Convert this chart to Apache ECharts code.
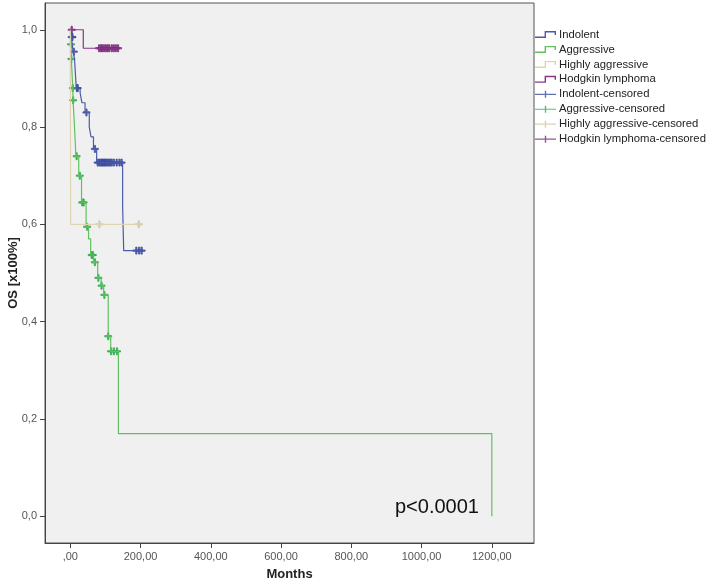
<!DOCTYPE html>
<html>
<head>
<meta charset="utf-8">
<title>OS by lymphoma type</title>
<script src="https://cdn.jsdelivr.net/npm/echarts@6/dist/echarts.min.js"></script>
<style>
  html, body { margin: 0; background: #fff; }
  #chart { width: 709px; height: 587px; }
</style>
</head>
<body>
<div id="chart"></div>
<script>
// axis ticks
const xTicks = [0, 200, 400, 600, 800, 1000, 1200];
const xTickLabels = [',00', '200,00', '400,00', '600,00', '800,00', '1000,00', '1200,00'];
const yTicks = [0, 0.2, 0.4, 0.6, 0.8, 1.0];
const yTickLabels = ['0,0', '0,2', '0,4', '0,6', '0,8', '1,0'];

// Kaplan-Meier steps (months, survival)
const indolentTime = [0, 3, 8, 12, 17, 28, 33, 42, 54, 59, 66, 75, 149, 152, 203];
const indolentSurv = [1.0, 0.985, 0.955, 0.94, 0.88, 0.87, 0.85, 0.83, 0.80, 0.78, 0.755, 0.727, 0.636, 0.546, 0.546];
const aggressiveTime = [0, 2, 3, 5, 7, 8, 12, 16, 24, 32, 45, 52, 58, 66, 78, 88, 95, 108, 115, 137, 1200];
const aggressiveSurv = [1.0, 0.97, 0.94, 0.91, 0.88, 0.855, 0.80, 0.74, 0.70, 0.645, 0.595, 0.57, 0.537, 0.522, 0.49, 0.474, 0.455, 0.37, 0.339, 0.17, 0.0];
const highlyTime = [0, 1, 195];
const highlySurv = [1.0, 0.6, 0.6];
const hodgkinTime = [0, 37, 136];
const hodgkinSurv = [1.0, 0.962, 0.962];

// censored observations
const indolentCensTime = [4, 6, 10, 19, 21, 46, 70, 78, 83, 87, 90, 93, 96, 99, 102, 106, 110, 114, 118, 124, 132, 140, 146, 188, 196, 203];
const indolentCensSurv = [0.985, 0.985, 0.955, 0.88, 0.88, 0.83, 0.755, 0.727, 0.727, 0.727, 0.727, 0.727, 0.727, 0.727, 0.727, 0.727, 0.727, 0.727, 0.727, 0.727, 0.727, 0.727, 0.727, 0.546, 0.546, 0.546];
const aggressiveCensTime = [2, 3, 7, 8, 18, 27, 34, 38, 48, 61, 64, 70, 80, 89, 97, 108, 116, 124, 133];
const aggressiveCensSurv = [0.97, 0.94, 0.88, 0.855, 0.74, 0.70, 0.645, 0.645, 0.595, 0.537, 0.537, 0.522, 0.49, 0.474, 0.455, 0.37, 0.339, 0.339, 0.339];
const highlyCensTime = [83, 195];
const highlyCensSurv = [0.6, 0.6];
const hodgkinCensTime = [4, 82, 87, 91, 96, 101, 106, 111, 118, 124, 130, 136];
const hodgkinCensSurv = [1.0, 0.962, 0.962, 0.962, 0.962, 0.962, 0.962, 0.962, 0.962, 0.962, 0.962, 0.962];

const FONT = 'Liberation Sans, Arial, sans-serif';
const plusSymbol = 'path://M0,4.1H4.1V0H5.9V4.1H10V5.9H5.9V10H4.1V5.9H0Z';
const stepIcon = 'path://M0,5.6H9.6V0H21V4H19.6V1.4H11V7H0Z';
const plusIcon = 'path://M0,2.9H9.8V0H11.2V2.9H21V4.1H11.2V7H9.8V4.1H0Z';

const colors = {
  indolent: '#4b5ba8',
  aggressive: '#62c062',
  highly: '#ddd5b2',
  hodgkin: '#8a348a',
  indolentCens: '#3c4f9f',
  aggressiveCens: '#31ac4a',
  highlyCens: '#cfc7a2',
  hodgkinCens: '#7a2a7a'
};

function zip(t, s) {
  return t.map((x, i) => [x, s[i]]);
}

function curve(name, t, s, color) {
  return {
    name: name,
    type: 'line',
    step: 'end',
    symbol: 'none',
    data: zip(t, s),
    lineStyle: { color: color, width: 1.2 },
    itemStyle: { color: color, borderColor: color },
    animation: false
  };
}

function censored(name, t, s, color) {
  return {
    name: name,
    type: 'scatter',
    symbol: plusSymbol,
    symbolSize: 7,
    data: zip(t, s),
    itemStyle: { color: color, borderColor: color },
    animation: false
  };
}

function legendItem(name, icon, color) {
  return { name: name, icon: icon, itemStyle: { color: color, borderColor: color, borderWidth: 0 } };
}

function pickLabel(ticks, labels) {
  return function (v) {
    const i = ticks.findIndex(t => Math.abs(t - v) < 1e-6);
    return i >= 0 ? labels[i] : '';
  };
}

const chart = echarts.init(document.getElementById('chart'));
chart.setOption({
  backgroundColor: '#fff',
  grid: {
    left: 45, right: 175, top: 3, bottom: 44,
    outerBoundsMode: 'none',
    containLabel: false,
    show: true,
    backgroundColor: '#f0f0f0',
    borderColor: '#555',
    borderWidth: 1
  },
  legend: {
    orient: 'vertical',
    left: 530,
    top: 24,
    itemWidth: 21,
    itemHeight: 7,
    itemGap: 3.95,
    selectedMode: false,
    itemStyle: { borderWidth: 0 },
    textStyle: { fontSize: 11.3, color: '#222', fontFamily: FONT, padding: [0, 0, 0, -2] },
    data: [
      legendItem('Indolent', stepIcon, colors.indolent),
      legendItem('Aggressive', stepIcon, colors.aggressive),
      legendItem('Highly aggressive', stepIcon, colors.highly),
      legendItem('Hodgkin lymphoma', stepIcon, colors.hodgkin),
      legendItem('Indolent-censored', plusIcon, colors.indolentCens),
      legendItem('Aggressive-censored', plusIcon, colors.aggressiveCens),
      legendItem('Highly aggressive-censored', plusIcon, colors.highlyCens),
      legendItem('Hodgkin lymphoma-censored', plusIcon, colors.hodgkinCens)
    ]
  },
  xAxis: {
    type: 'value',
    min: -72,
    max: 1320,
    name: 'Months',
    nameLocation: 'middle',
    nameGap: 25,
    nameMoveOverlap: false,
    nameTextStyle: { fontSize: 13, fontWeight: 'bold', color: '#222', fontFamily: FONT },
    splitLine: { show: false },
    axisLine: { show: true, onZero: false, lineStyle: { color: '#444' } },
    axisTick: { show: true, length: 5, customValues: xTicks, lineStyle: { color: '#444' } },
    axisLabel: {
      customValues: xTicks,
      margin: 8,
      fontSize: 11,
      color: '#555',
      fontFamily: FONT,
      formatter: pickLabel(xTicks, xTickLabels)
    }
  },
  yAxis: {
    type: 'value',
    min: -0.055,
    max: 1.055,
    name: 'OS [x100%]',
    nameLocation: 'middle',
    nameGap: 25,
    nameMoveOverlap: false,
    nameTextStyle: { fontSize: 13, fontWeight: 'bold', color: '#222', fontFamily: FONT },
    splitLine: { show: false },
    axisLine: { show: true, onZero: false, lineStyle: { color: '#444' } },
    axisTick: { show: true, length: 5, customValues: yTicks, lineStyle: { color: '#444' } },
    axisLabel: {
      customValues: yTicks,
      margin: 8,
      fontSize: 11,
      color: '#555',
      fontFamily: FONT,
      formatter: pickLabel(yTicks, yTickLabels)
    }
  },
  graphic: [
    {
      type: 'text',
      left: 395,
      top: 497,
      style: { text: 'p<0.0001', fontSize: 20, fill: '#111', fontFamily: FONT }
    }
  ],
  series: [
    curve('Indolent', indolentTime, indolentSurv, colors.indolent),
    curve('Aggressive', aggressiveTime, aggressiveSurv, colors.aggressive),
    curve('Highly aggressive', highlyTime, highlySurv, colors.highly),
    curve('Hodgkin lymphoma', hodgkinTime, hodgkinSurv, colors.hodgkin),
    censored('Indolent-censored', indolentCensTime, indolentCensSurv, colors.indolentCens),
    censored('Aggressive-censored', aggressiveCensTime, aggressiveCensSurv, colors.aggressiveCens),
    censored('Highly aggressive-censored', highlyCensTime, highlyCensSurv, colors.highlyCens),
    censored('Hodgkin lymphoma-censored', hodgkinCensTime, hodgkinCensSurv, colors.hodgkinCens)
  ]
});
</script>
</body>
</html>
